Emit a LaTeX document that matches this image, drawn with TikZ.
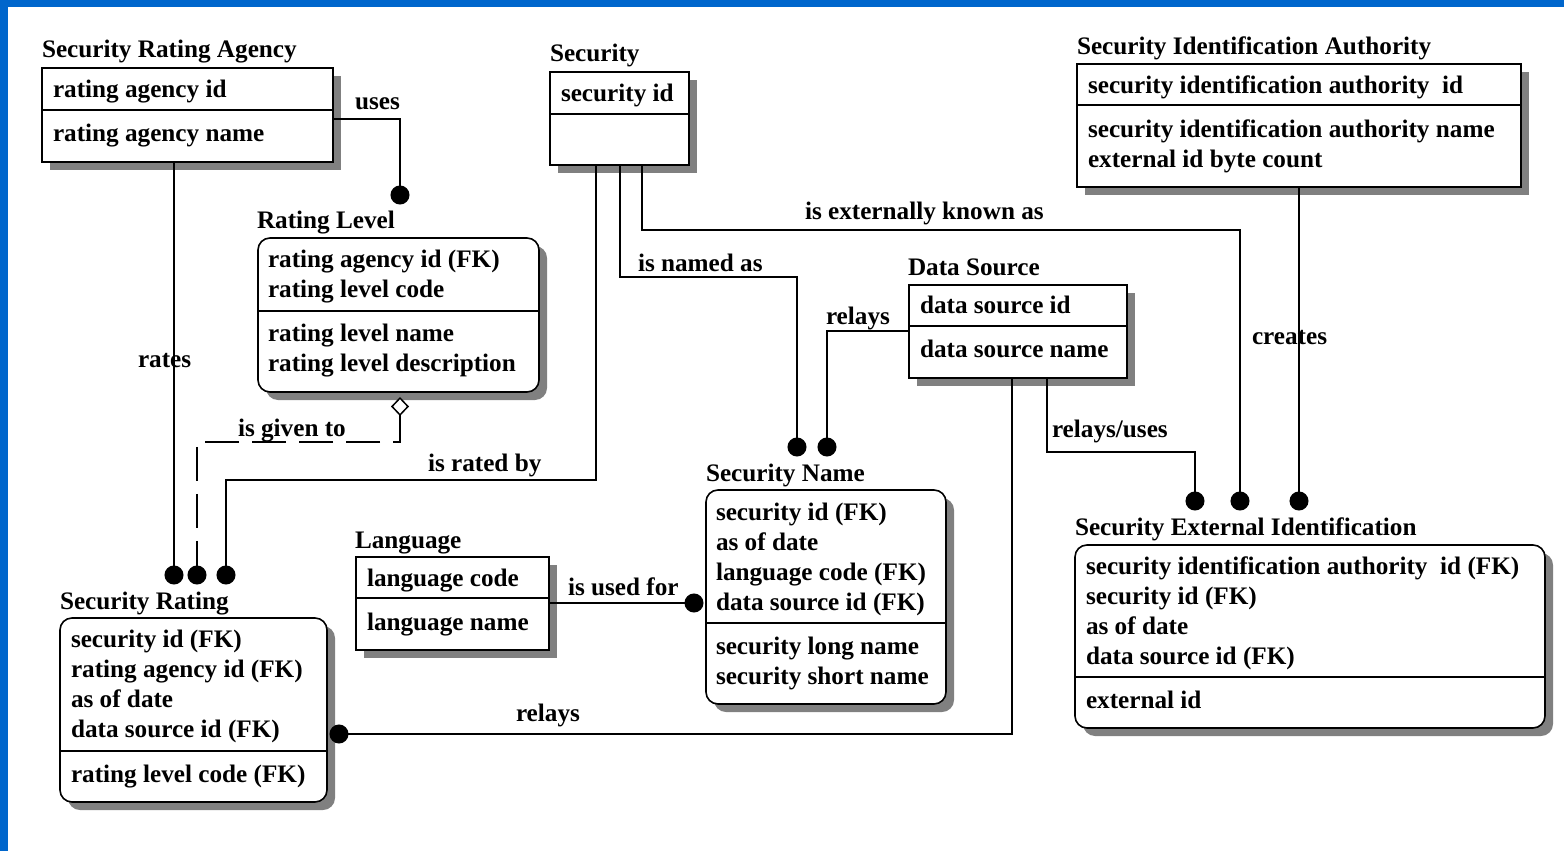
\documentclass[tikz,border=0pt]{standalone}
\usepackage{fontspec}
\setmainfont{Liberation Serif}
\usetikzlibrary{arrows.meta,shadows,calc}
\definecolor{frameblue}{HTML}{0066CC}
\begin{document}
\begin{tikzpicture}[x=1pt,y=-1pt,
  every node/.style={inner sep=0pt, outer sep=0pt},
  txt/.style={anchor=base west, font=\fontsize{25.2}{30}\selectfont\bfseries},
  ent/.style={draw, line width=1.6pt, fill=white, anchor=north west,
    drop shadow={shadow xshift=8pt, shadow yshift=-8pt, fill=black!50, opacity=1}},
  dep/.style={ent, rounded corners=12pt},
  div/.style={line width=1.6pt},
  rel/.style={line width=1.5pt},
  dot/.style={-{Circle[length=19pt,width=19pt]}},
]
% canvas and frame
\useasboundingbox (0,0) rectangle (1564,851);
\fill[white] (0,0) rectangle (1564,851);
\fill[frameblue] (0,0) rectangle (8,851);
\fill[frameblue] (0,0) rectangle (1564,7);

% ---------- entity boxes ----------
\node[ent, minimum width=291pt, minimum height=94pt] (sra) at (42,68) {};
\draw[div] (sra.west |- 0,110) -- (sra.east |- 0,110);
\node[txt] (sra-t) at (42,58) {Security Rating Agency};
\node[txt] (sra-a1) at (53,97) {rating agency id};
\node[txt] (sra-a2) at (53,141) {rating agency name};

\node[ent, minimum width=139pt, minimum height=93pt] (sec) at (550,72) {};
\draw[div] (sec.west |- 0,114) -- (sec.east |- 0,114);
\node[txt] (sec-t) at (550,62) {Security};
\node[txt] (sec-a1) at (561,101) {security id};

\node[ent, minimum width=444pt, minimum height=123pt] (sia) at (1077,64) {};
\draw[div] (sia.west |- 0,105) -- (sia.east |- 0,105);
\node[txt] (sia-t) at (1077,55) {Security Identification Authority};
\node[txt] (sia-a1) at (1088,93) {security identification authority\ \ id};
\node[txt] (sia-a2) at (1088,137) {security identification authority name};
\node[txt] (sia-a3) at (1088,167) {external id byte count};

\node[dep, minimum width=281pt, minimum height=154pt] (rl) at (258,238) {};
\draw[div] (rl.west |- 0,311) -- (rl.east |- 0,311);
\node[txt] (rl-t) at (257,228) {Rating Level};
\node[txt] (rl-a1) at (268,267) {rating agency id (FK)};
\node[txt] (rl-a2) at (268,297) {rating level code};
\node[txt] (rl-a3) at (268,341) {rating level name};
\node[txt] (rl-a4) at (268,371) {rating level description};

\node[ent, minimum width=218pt, minimum height=93pt] (ds) at (909,285) {};
\draw[div] (ds.west |- 0,326) -- (ds.east |- 0,326);
\node[txt] (ds-t) at (908,275) {Data Source};
\node[txt] (ds-a1) at (920,313) {data source id};
\node[txt] (ds-a2) at (920,357) {data source name};

\node[dep, minimum width=240pt, minimum height=214pt] (sn) at (706,490) {};
\draw[div] (sn.west |- 0,623) -- (sn.east |- 0,623);
\node[txt] (sn-t) at (706,481) {Security Name};
\node[txt] (sn-a1) at (716,520) {security id (FK)};
\node[txt] (sn-a2) at (716,550) {as of date};
\node[txt] (sn-a3) at (716,580) {language code (FK)};
\node[txt] (sn-a4) at (716,610) {data source id (FK)};
\node[txt] (sn-a5) at (716,654) {security long name};
\node[txt] (sn-a6) at (716,684) {security short name};

\node[ent, minimum width=193pt, minimum height=93pt] (lang) at (356,557) {};
\draw[div] (lang.west |- 0,598) -- (lang.east |- 0,598);
\node[txt] (lang-t) at (355,548) {Language};
\node[txt] (lang-a1) at (367,586) {language code};
\node[txt] (lang-a2) at (367,630) {language name};

\node[dep, minimum width=267pt, minimum height=184pt] (sr) at (60,618) {};
\draw[div] (sr.west |- 0,751) -- (sr.east |- 0,751);
\node[txt] (sr-t) at (60,609) {Security Rating};
\node[txt] (sr-a1) at (71,647) {security id (FK)};
\node[txt] (sr-a2) at (71,677) {rating agency id (FK)};
\node[txt] (sr-a3) at (71,707) {as of date};
\node[txt] (sr-a4) at (71,737) {data source id (FK)};
\node[txt] (sr-a5) at (71,782) {rating level code (FK)};

\node[dep, minimum width=470pt, minimum height=183pt] (sei) at (1075,545) {};
\draw[div] (sei.west |- 0,677) -- (sei.east |- 0,677);
\node[txt] (sei-t) at (1075,535) {Security External Identification};
\node[txt] (sei-a1) at (1086,574) {security identification authority\ \ id (FK)};
\node[txt] (sei-a2) at (1086,604) {security id (FK)};
\node[txt] (sei-a3) at (1086,634) {as of date};
\node[txt] (sei-a4) at (1086,664) {data source id (FK)};
\node[txt] (sei-a5) at (1086,708) {external id};

% ---------- connector end points (dots) ----------
\coordinate (rl-in)   at (400,204.5);
\coordinate (sr-in1)  at (174,584.5);
\coordinate (sr-in2)  at (197,584.5);
\coordinate (sr-in3)  at (226,584.5);
\coordinate (sr-in4)  at (329.5,734);
\coordinate (sn-in1)  at (797,456.5);
\coordinate (sn-in2)  at (827,456.5);
\coordinate (sn-in3)  at (703.5,603);
\coordinate (sei-in1) at (1195,510.5);
\coordinate (sei-in2) at (1240,510.5);
\coordinate (sei-in3) at (1299,510.5);

% ---------- relationships ----------
\draw[rel,dot] (sra.east |- 0,119) -| (rl-in);
\draw[rel,dot] (sra.south -| 174,0) -- (sr-in1);
\draw[rel, dash pattern=on 34pt off 13pt,
      {Diamond[open,fill=white,length=19pt,width=18pt,line width=1.5pt]}-{Circle[length=19pt,width=19pt]}]
      ($(rl.south -| 400,0)+(0,5)$) |- (197,442) -- (sr-in2);
\draw[rel,dot] (sec.south -| 596,0) |- (226,480) -- (sr-in3);
\draw[rel,dot] (sec.south -| 620,0) |- (797,277) -- (sn-in1);
\draw[rel,dot] (sec.south -| 642,0) |- (1240,230) -- (sei-in2);
\draw[rel,dot] (ds.west |- 0,331) -| (sn-in2);
\draw[rel,dot] (ds.south -| 1012,0) |- (sr-in4);
\draw[rel,dot] (ds.south -| 1047,0) |- (1195,452) -- (sei-in1);
\draw[rel,dot] (sia.south -| 1299,0) -- (sei-in3);
\draw[rel,dot] (lang.east |- 0,603) -- (sn-in3);

% ---------- relationship labels ----------
\node[txt] (l-uses)   at (355,109) {uses};
\node[txt] (l-rates)  at (138,367) {rates};
\node[txt] (l-given)  at (238,436) {is given to};
\node[txt] (l-rated)  at (428,471) {is rated by};
\node[txt] (l-named)  at (638,271) {is named as};
\node[txt] (l-known)  at (805,219) {is externally known as};
\node[txt] (l-relay1) at (826,324) {relays};
\node[txt] (l-relay2) at (516,721) {relays};
\node[txt] (l-relayu) at (1052,437) {relays/uses};
\node[txt] (l-creates) at (1252,344) {creates};
\node[txt] (l-usedfor) at (568,595) {is used for};
\end{tikzpicture}
\end{document}
